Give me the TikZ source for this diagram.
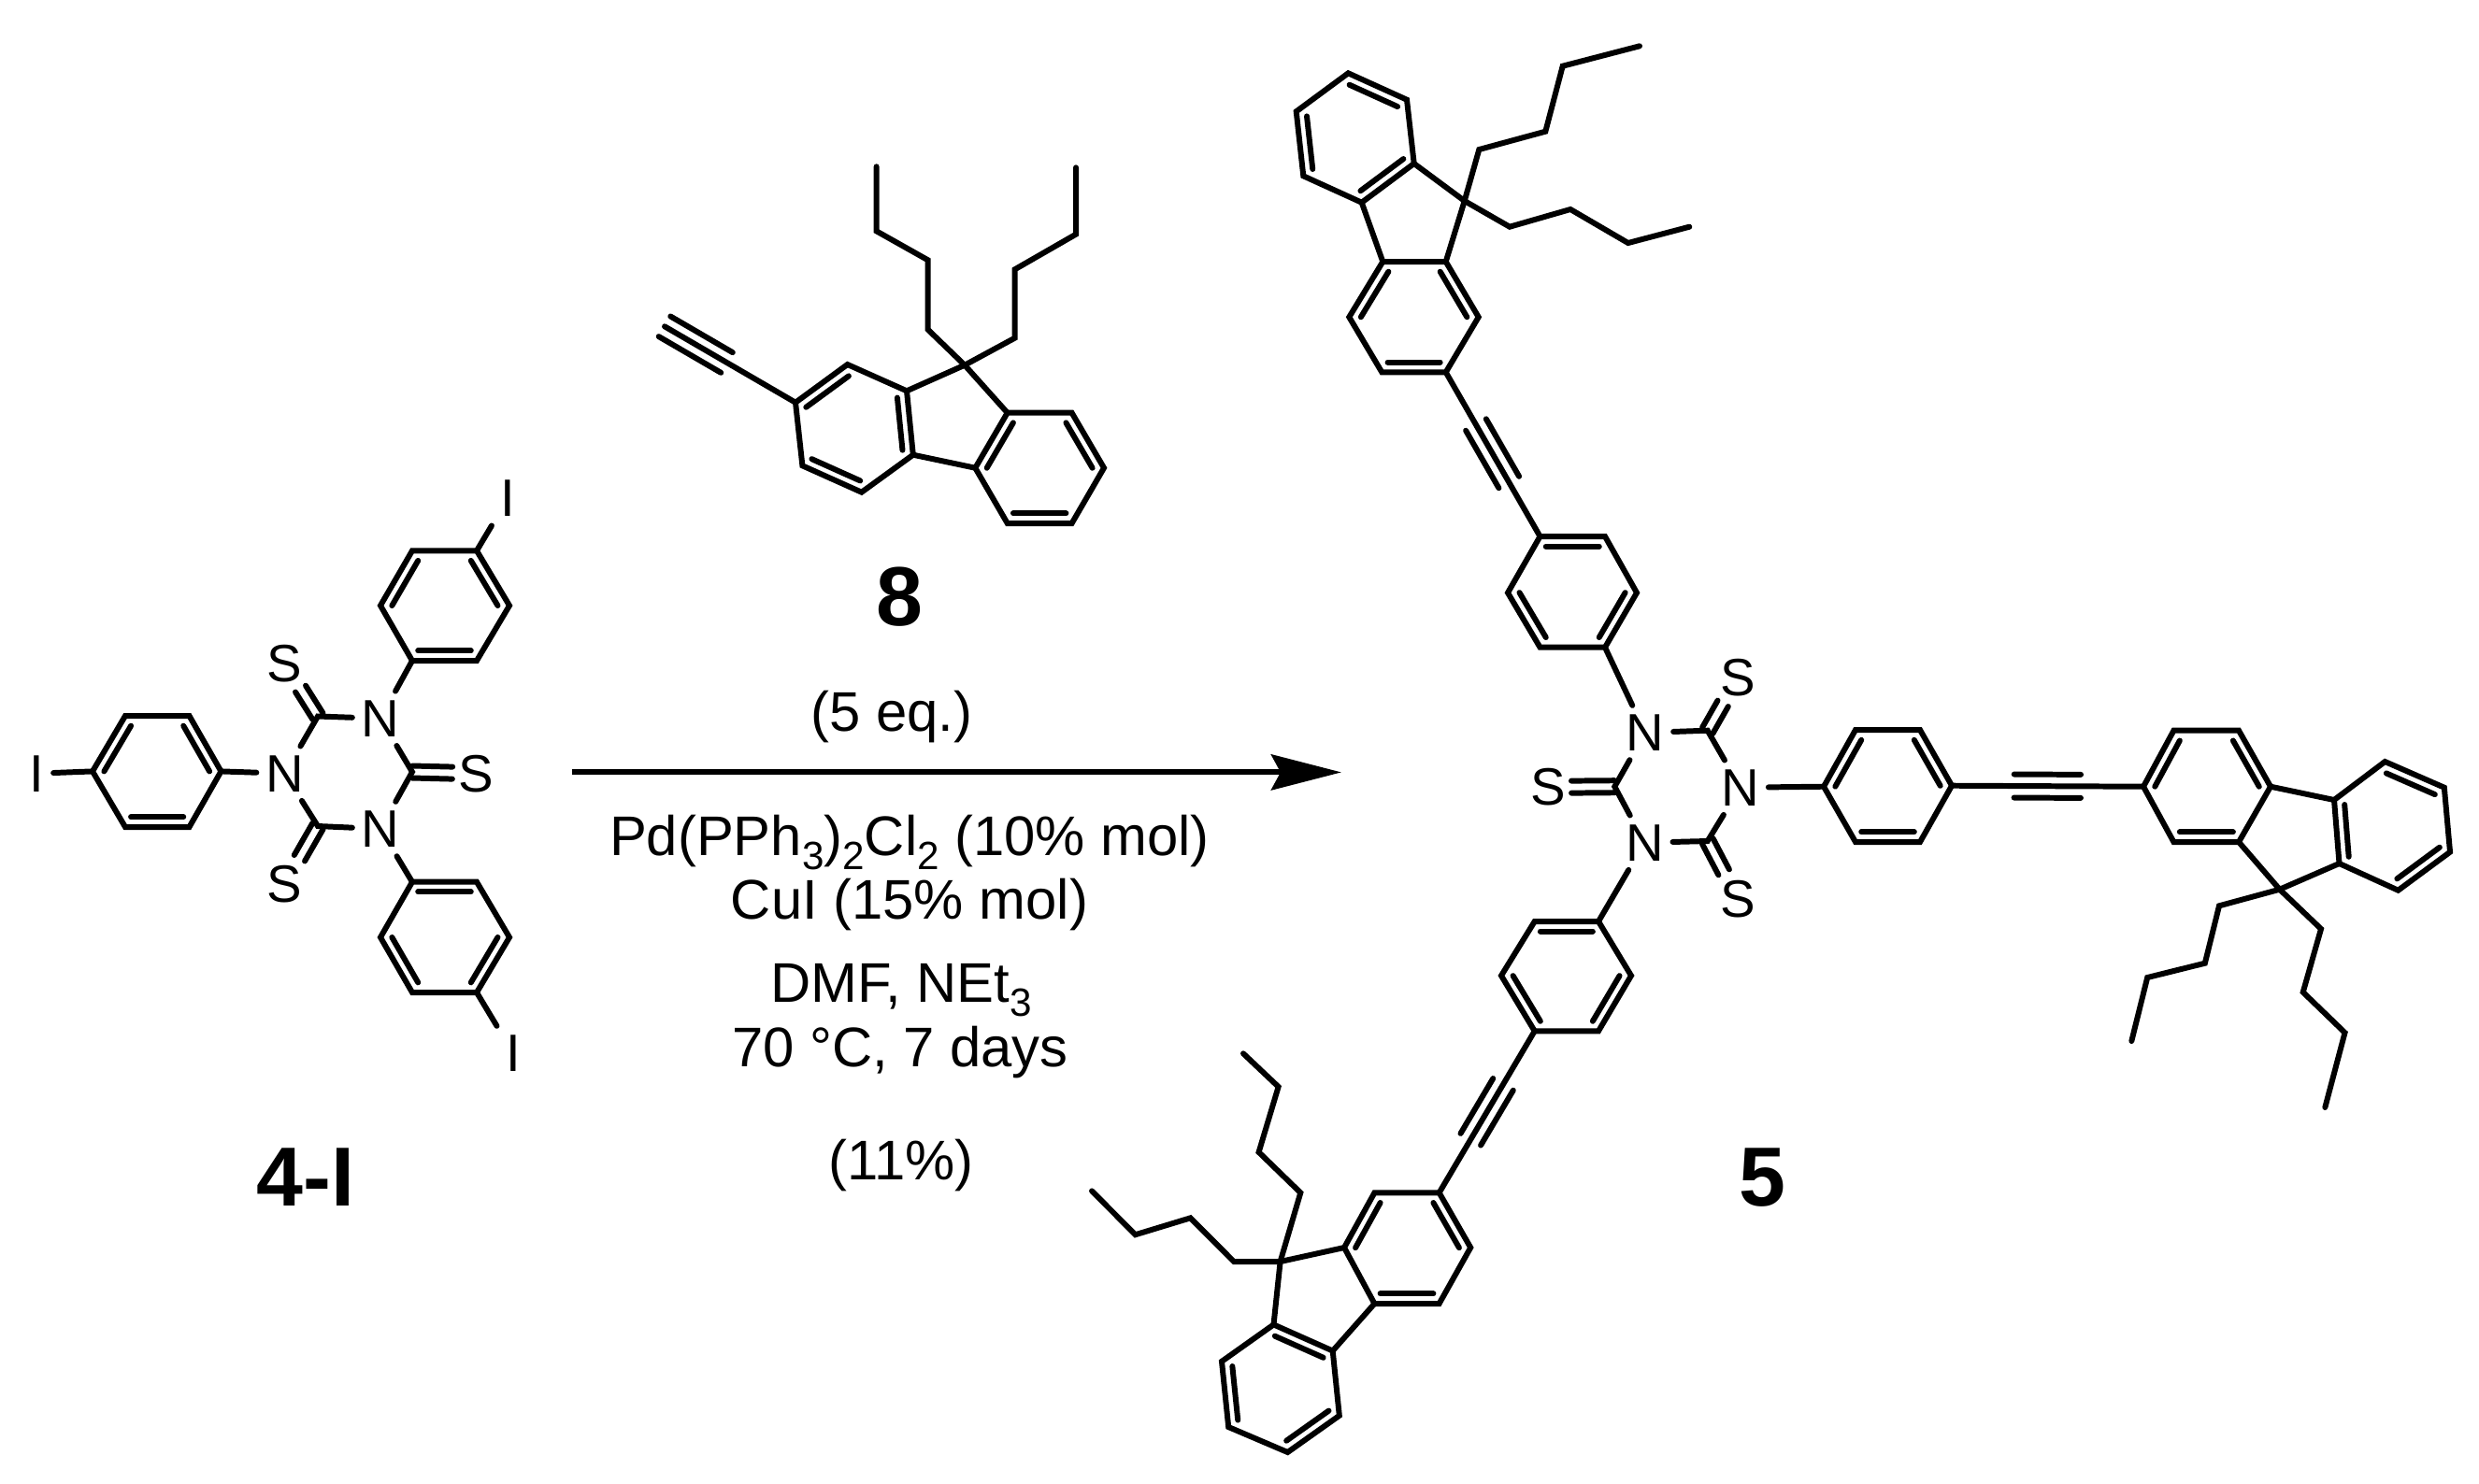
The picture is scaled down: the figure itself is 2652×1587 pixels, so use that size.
\documentclass[tikz,border=0pt]{standalone}
\usepackage{fontspec}
\setmainfont{Liberation Sans}
\usetikzlibrary{calc,arrows.meta}

\newcommand{\chemsub}[1]{\raisebox{-4.5pt}{\fontsize{12}{14}\selectfont #1}}

% six ring atoms, double bonds on a-b, c-d, e-f
\newcommand{\aromring}[7]{%
   \coordinate (#1a) at (#2); \coordinate (#1b) at (#3); \coordinate (#1c) at (#4);
   \coordinate (#1d) at (#5); \coordinate (#1e) at (#6); \coordinate (#1f) at (#7);
   \coordinate (#1o) at ($(#1a)!.5!(#1d)$);
   \draw[bond] (#1a) -- (#1b) -- (#1c) -- (#1d) -- (#1e) -- (#1f) -- cycle;
   \draw[bond] ($(#1a)!.18!(#1o)$) -- ($(#1b)!.18!(#1o)$);
   \draw[bond] ($(#1c)!.18!(#1o)$) -- ($(#1d)!.18!(#1o)$);
   \draw[bond] ($(#1e)!.18!(#1o)$) -- ($(#1f)!.18!(#1o)$);
}
\newcommand{\thione}[3]{%
   \draw[bond, shorten >=#3] ($(#1)!.065cm!90:(#2)$) -- ($(#2)!.065cm!-90:(#1)$);
   \draw[bond, shorten >=#3] ($(#1)!.065cm!-90:(#2)$) -- ($(#2)!.065cm!90:(#1)$);
}
\newcommand{\alkyne}[4]{%
   \draw[bond] (#1) -- (#2);
   \draw[bond] ($($(#1)!#3!(#2)$)!.125cm!90:(#2)$) -- ($($(#1)!#4!(#2)$)!.125cm!-90:(#1)$);
   \draw[bond] ($($(#1)!#3!(#2)$)!.125cm!-90:(#2)$) -- ($($(#1)!#4!(#2)$)!.125cm!90:(#1)$);
}

\begin{document}
\begin{tikzpicture}[x=0.01cm,y=-0.01cm]
   \tikzstyle{bond}=[line width=1.7pt, line cap=round, line join=miter]
   \tikzstyle{atom}=[inner sep=2.6pt, font=\fontsize{16}{18}\selectfont]
   \tikzstyle{reagent}=[anchor=base, inner sep=0pt, font=\fontsize{17}{20}\selectfont]
   \tikzstyle{compound}=[anchor=base, inner sep=0pt, font=\fontsize{25.5}{28}\selectfont\bfseries]
   \useasboundingbox (0,0) rectangle (2652,1587);

% compound 4-I
\node[atom] (Nl) at (304.5,827.7) {N};
\node[atom] (Nt) at (407,768.8) {N};
\node[atom] (Nb) at (407,887) {N};
\coordinate (Ct) at (340,766.5);
\coordinate (Cr) at (441,826);
\coordinate (Cb) at (340,884);
\node[atom] (St) at (304.5,710) {S};
\node[atom] (Sr) at (509,827.7) {S};
\node[atom] (Sb) at (304.5,946) {S};
\draw[bond] (Nl) -- (Ct) -- (Nt) -- (Cr) -- (Nb) -- (Cb) -- (Nl);
\thione{Ct}{St}{.32cm}
\thione{Cr}{Sr}{.25cm}
\thione{Cb}{Sb}{.32cm}

\aromring{pl}{99,825.4}{134,766}{202.5,766}{236.5,825.4}{202.5,885}{134,885}
\aromring{pt}{441,707}{510,707}{545,648}{510,589.3}{441,589.3}{407,648}
\aromring{pb}{441,943.7}{510,943.7}{545,1003}{510,1062}{441,1062}{407,1003}
\node[atom] (Il) at (39.5,827.7) {I};
\node[atom] (It) at (543.3,533.3) {I};
\node[atom] (Ib) at (549,1127) {I};
\draw[bond] (Il) -- (pla);
\draw[bond] (pld) -- (Nl);
\draw[bond] (pta) -- (Nt);
\draw[bond] (ptd) -- (It);
\draw[bond] (pba) -- (Nb);
\draw[bond] (pbd) -- (Ib);
\node[compound] (nameA) at (327,1290) {4-I};

% compound 8
\coordinate (yne) at (711,349.3);
\aromring{fa}{851,430.7}{906.6,390}{970,418.3}{976.8,486.7}{921.7,526.7}{858.4,498.3}
\aromring{fb}{1077.7,441.7}{1043.3,500.7}{1077.7,560}{1146.6,560}{1181,500.7}{1146.6,441.7}
\coordinate (fq) at (1032,390.7);
\draw[bond] (fac) -- (fq) -- (fba);
\draw[bond] (fad) -- (fbb);
\alkyne{yne}{faa}{0}{.475}
\draw[bond] (fq) -- (992.7,352.7) -- (992.7,278.3) -- (937.6,247.3) -- (937.6,178.3);
\draw[bond] (fq) -- (1085.6,361.7) -- (1085.6,288.3) -- (1151,250.7) -- (1151,179.3);
\node[compound] (nameB) at (962.7,669) {8};

% reaction arrow and conditions
\coordinate (arrowstart) at (612,826.4);
\coordinate (arrowend) at (1435,826.4);
\draw[line width=1.75pt, -{Stealth[length=.75cm, width=.38cm, inset=.1cm]}] (arrowstart) -- (arrowend);
\node[reagent] (equiv) at (953.8,782) {(5 eq.)};
\node[reagent] (cata) at (973,915) {Pd(PPh\chemsub{3})\chemsub{2}Cl\chemsub{2} (10\% mol)};
\node[reagent] (catb) at (973,983) {CuI (15\% mol)};
\node[reagent] (solv) at (964,1072) {DMF, NEt\chemsub{3}};
\node[reagent] (temp) at (963,1141) {70 °C, 7 days};
\node[reagent] (yield) at (964,1262) {(11\%)};

% compound 5, core
\node[atom] (Ma) at (1760,784) {N};
\node[atom] (Mb) at (1861.7,842.7) {N};
\node[atom] (Mc) at (1759.3,901.7) {N};
\coordinate (Da) at (1826.7,781.7);
\coordinate (Db) at (1826.7,900);
\coordinate (Dc) at (1727.3,841.7);
\node[atom] (Ta) at (1859,725) {S};
\node[atom] (Tb) at (1859,961.7) {S};
\node[atom] (Tc) at (1656,842.3) {S};
\draw[bond] (Ma) -- (Da) -- (Mb) -- (Db) -- (Mc) -- (Dc) -- (Ma);
\thione{Da}{Ta}{.32cm}
\thione{Db}{Tb}{.32cm}
\thione{Dc}{Tc}{.25cm}

% upper arm
\aromring{ua}{1647.5,574}{1717,574}{1751,634.3}{1717,692.7}{1647.5,692.7}{1613,634.3}
\aromring{ub}{1479.3,280}{1443.3,339.3}{1478.3,398.3}{1546.7,398.3}{1581.7,339.3}{1546.7,280}
\aromring{uc}{1442.3,78.3}{1505,106.7}{1512.7,175}{1456.7,216.7}{1394.3,188.3}{1386.7,119.3}
\coordinate (uq) at (1566.7,215);
\draw[bond] (ucc) -- (uq) -- (ubf);
\draw[bond] (ucd) -- (uba);
\draw[bond] (uad) -- (Ma);
\alkyne{ubd}{uaa}{.32}{.67}
\draw[bond] (uq) -- (1582.3,160) -- (1653.3,140.7) -- (1671.7,70.7) -- (1754,49.3);
\draw[bond] (uq) -- (1615,242.7) -- (1680,224) -- (1741.7,260) -- (1807.3,242.7);

% right arm
\aromring{ra}{1951,841.7}{1985,781}{2054,781}{2088,840.7}{2054,901}{1985,901}
\aromring{rb}{2293,841.7}{2325.4,781.7}{2395,781.7}{2429,841.7}{2395,901}{2325.4,901}
\aromring{rc}{2497,856}{2502.5,924}{2565.5,952.7}{2621,911.7}{2614.8,842.7}{2551.4,815}
\coordinate (rq) at (2438.7,951.7);
\draw[bond] (rcb) -- (rq) -- (rbe);
\draw[bond] (rca) -- (rbd);
\draw[bond] (Mb) -- (raa);
\alkyne{rad}{rba}{.325}{.673}
\draw[bond] (rq) -- (2374,969.3) -- (2358.8,1030.7) -- (2297.2,1046) -- (2280.3,1114);
\draw[bond] (rq) -- (2483,994) -- (2463.7,1061.7) -- (2508.5,1105) -- (2487.3,1185);

% lower arm
\aromring{la}{1641.7,986}{1710,986}{1745,1044}{1710,1103.3}{1641.7,1103.3}{1606,1044}
\aromring{lb}{1470.4,1276.3}{1438,1335}{1470.4,1395}{1539.6,1395}{1573.2,1335}{1539.6,1276.3}
\aromring{lc}{1362.5,1417.4}{1425.7,1445.5}{1432.8,1514.8}{1377.5,1554}{1314.2,1527}{1307,1456.8}
\coordinate (lq) at (1369.6,1350);
\draw[bond] (lca) -- (lq) -- (lbb);
\draw[bond] (lcb) -- (lbc);
\draw[bond] (lab) -- (Mc);
\alkyne{lbf}{lae}{.33}{.67}
\draw[bond] (lq) -- (1391.3,1276.3) -- (1346.6,1232.9) -- (1367.6,1162.9) -- (1330,1127.3);
\draw[bond] (lq) -- (1320,1350) -- (1273.5,1303.3) -- (1214.6,1321.2) -- (1168,1274.4);
\node[compound] (nameC) at (1885,1290) {5};

\end{tikzpicture}
\end{document}
